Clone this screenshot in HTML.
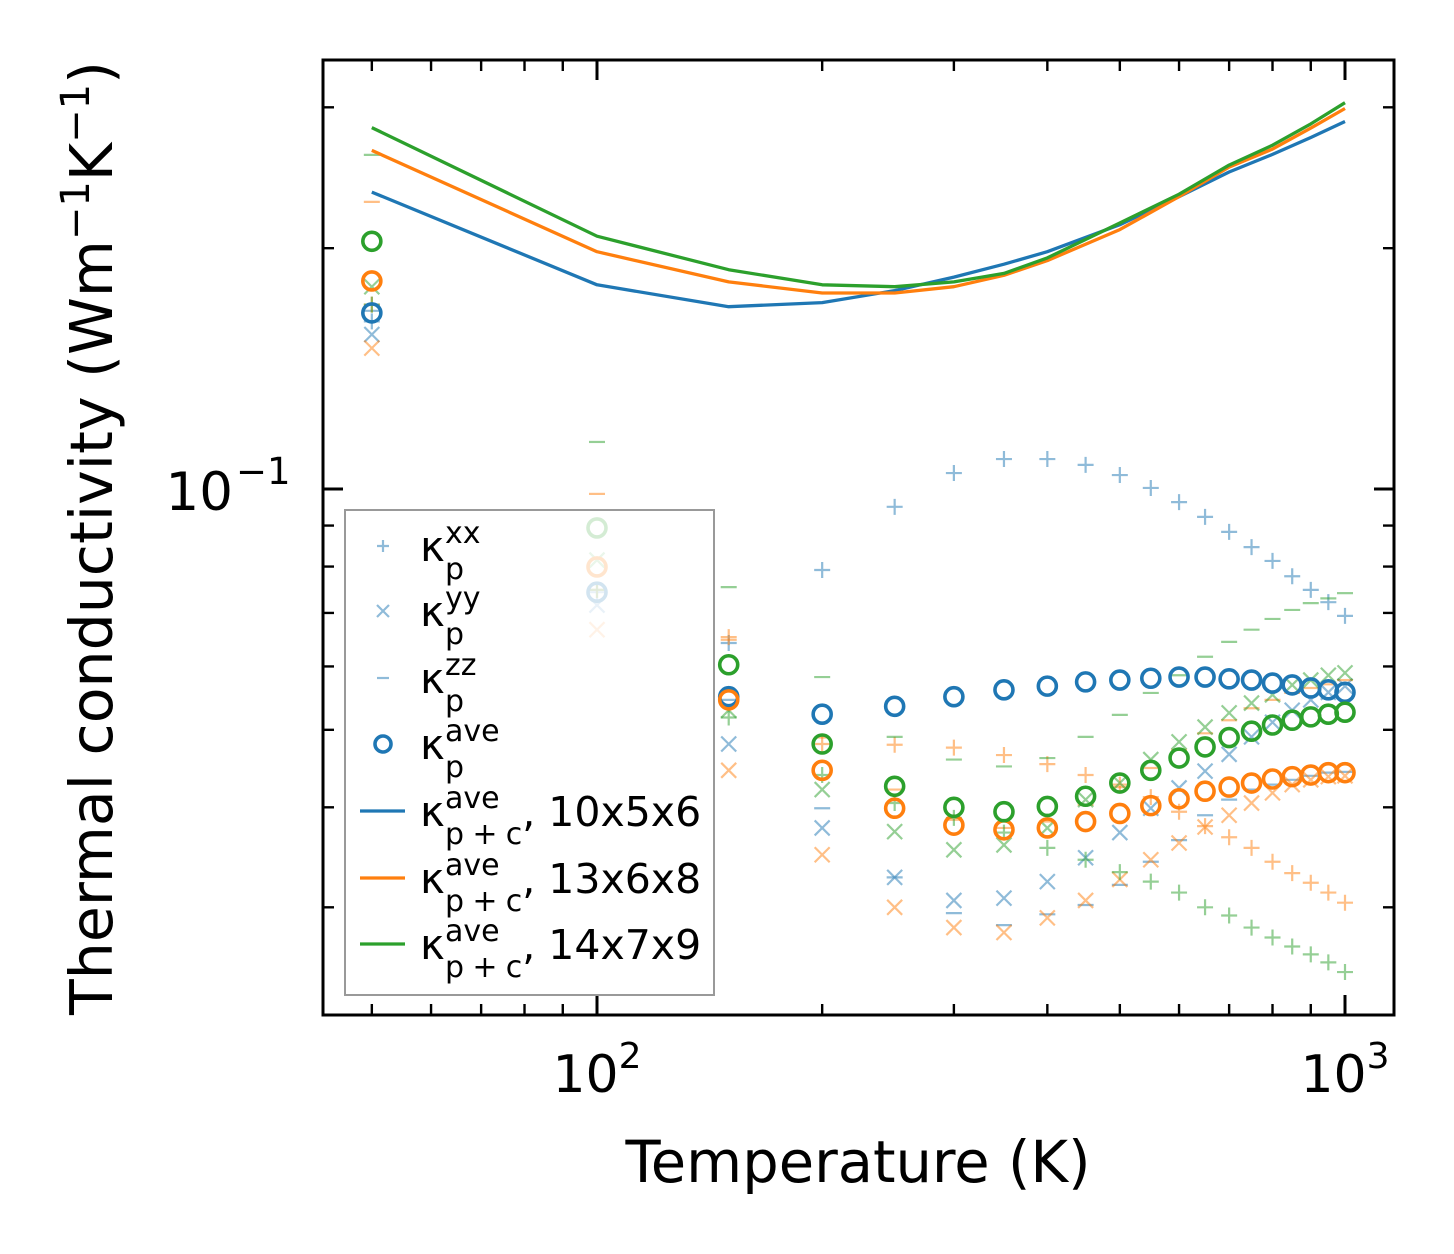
<!DOCTYPE html>
<html><head><meta charset="utf-8"><style>
html,body{margin:0;padding:0;background:#fff;}
svg{display:block;font-family:"DejaVu Sans","Liberation Sans",sans-serif;}
</style></head><body>
<svg id="chart" width="1454" height="1254" viewBox="0 0 1454 1254" xmlns="http://www.w3.org/2000/svg">
<rect width="1454" height="1254" fill="#fff"/>
<g id="marks"></g>
<g id="axes"></g>
<text x="858" y="1182" font-size="57.5" text-anchor="middle">Temperature (K)</text>
<text transform="translate(112,538) rotate(-90)" font-size="58.5" text-anchor="middle">Thermal conductivity (Wm<tspan baseline-shift="super" font-size="40">−1</tspan>K<tspan baseline-shift="super" font-size="40">−1</tspan>)</text>
<g id="legend"></g>
</svg>
<script>
const temps = [50,100,150,200,250,300,350,400,450,500,550,600,650,700,750,800,850,900,950,1000];
const lineTemps = [50,100,150,200,250,300,350,400,500,600,700,800,900,1000];
// kappa_p^xx
const blueXX = [0.162,0.0743,0.0642,0.0792,0.0950,0.1047,0.1090,0.1090,0.1072,0.1041,0.1003,0.0963,0.0923,0.0884,0.0846,0.0813,0.0778,0.0748,0.0722,0.0694];
const orangeXX = [0.170,0.0748,0.0653,0.0480,0.0479,0.0475,0.0465,0.0453,0.0439,0.0427,0.0412,0.0395,0.0379,0.0367,0.0356,0.0342,0.0331,0.0322,0.0313,0.0304];
const greenXX = [0.170,0.0748,0.0518,0.0439,0.0405,0.0388,0.0372,0.0356,0.0344,0.0332,0.0323,0.0313,0.0300,0.0293,0.0283,0.0275,0.0268,0.0262,0.0256,0.0249];
// kappa_p^yy
const blueYY = [0.156,0.0716,0.0480,0.0377,0.0327,0.0306,0.0308,0.0323,0.0346,0.0372,0.0399,0.0423,0.0444,0.0466,0.0490,0.0511,0.0529,0.0545,0.0557,0.0567];
const orangeYY = [0.150,0.0667,0.0445,0.0349,0.0300,0.0283,0.0279,0.0291,0.0306,0.0325,0.0344,0.0361,0.0378,0.0391,0.0405,0.0417,0.0427,0.0433,0.0437,0.0438];
const greenYY = [0.179,0.0815,0.0529,0.0421,0.0373,0.0354,0.0359,0.0377,0.0409,0.0429,0.0459,0.0483,0.0504,0.0525,0.0540,0.0553,0.0569,0.0577,0.0585,0.0589];
// kappa_p^zz
const blueZZ = [0.167,0.0748,0.0545,0.0399,0.0327,0.0295,0.0285,0.0294,0.0302,0.0320,0.0342,0.0364,0.0391,0.0409,0.0421,0.0427,0.0433,0.0438,0.0442,0.0443];
const orangeZZ = [0.2285,0.0986,0.0648,0.0489,0.0421,0.0386,0.0377,0.0384,0.0403,0.0424,0.0448,0.0472,0.0495,0.0514,0.0532,0.0545,0.0556,0.0564,0.0570,0.0577];
const greenZZ = [0.2616,0.1145,0.0754,0.0582,0.0490,0.0459,0.0450,0.0461,0.0490,0.0522,0.0556,0.0585,0.0617,0.0644,0.0667,0.0688,0.0706,0.0720,0.0730,0.0741];
// kappa_p^ave
const blueAve = [0.166,0.0743,0.0550,0.0523,0.0535,0.0550,0.0561,0.0567,0.0574,0.0577,0.0580,0.0582,0.0582,0.0579,0.0577,0.0572,0.0569,0.0564,0.0561,0.0557];
const orangeAve = [0.182,0.0799,0.0545,0.0445,0.0399,0.0380,0.0375,0.0377,0.0384,0.0393,0.0402,0.0410,0.0419,0.0424,0.0429,0.0434,0.0437,0.0439,0.0442,0.0442];
const greenAve = [0.204,0.0894,0.0603,0.0480,0.0425,0.0400,0.0395,0.0401,0.0413,0.0429,0.0445,0.0461,0.0476,0.0489,0.0498,0.0507,0.0514,0.0519,0.0523,0.0526];
// kappa_{p+c}^ave lines
const line10x5x6 = [0.235,0.180,0.169,0.171,0.177,0.184,0.191,0.198,0.214,0.232,0.249,0.262,0.275,0.288];
const line13x6x8 = [0.265,0.198,0.1815,0.1758,0.1758,0.179,0.185,0.193,0.211,0.232,0.2526,0.266,0.2826,0.299];
const line14x7x9 = [0.283,0.207,0.188,0.180,0.179,0.1815,0.186,0.1945,0.215,0.2336,0.254,0.269,0.286,0.304];
const xMajorTicks = [100,1000];
const xMajorLabels = ["2","3"];
const xMinorTicks = [50,60,70,80,90,200,300,400,500,600,700,800,900];
const yMajorTicks = [0.1];
const yMinorTicks = [0.03,0.04,0.05,0.06,0.07,0.08,0.09,0.2,0.3];

const L=323,R=1394,T=60,B=1015;
function xs(t){return 597+748*Math.log10(t/100);}
function ys(v){return 489-800*Math.log10(v/0.1);}
const NS="http://www.w3.org/2000/svg";
function mk(tag,attrs,parent){const e=document.createElementNS(NS,tag);for(const k in attrs)e.setAttribute(k,attrs[k]);parent.appendChild(e);return e;}
const C={blue:"#1f77b4",orange:"#ff7f0e",green:"#2ca02c"};
const marks=document.getElementById('marks');
const clip=mk('clipPath',{id:'pc'},marks);mk('rect',{x:L,y:T,width:R-L,height:B-T},clip);
const g=mk('g',{'clip-path':'url(#pc)'},marks);

function plus(x,y,s,col,parent){return mk('path',{d:`M${x-s},${y}H${x+s}M${x},${y-s}V${y+s}`,stroke:col,'stroke-width':2.2,'stroke-opacity':0.5,fill:'none'},parent);}
function cross(x,y,s,col,parent){return mk('path',{d:`M${x-s},${y-s}L${x+s},${y+s}M${x-s},${y+s}L${x+s},${y-s}`,stroke:col,'stroke-width':2.2,'stroke-opacity':0.5,fill:'none'},parent);}
function dash(x,y,s,col,parent){return mk('path',{d:`M${x-s},${y}H${x+s}`,stroke:col,'stroke-width':2.2,'stroke-opacity':0.5,fill:'none'},parent);}
function ring(x,y,r,col,parent){return mk('circle',{cx:x,cy:y,r:r,stroke:col,'stroke-width':3.6,fill:'none'},parent);}

const scatter=[
 ['blue','xx',blueXX],['blue','yy',blueYY],['blue','zz',blueZZ],
 ['orange','xx',orangeXX],['orange','yy',orangeYY],['orange','zz',orangeZZ],
 ['green','xx',greenXX],['green','yy',greenYY],['green','zz',greenZZ]];
scatter.forEach(([c,k,arr])=>{
  arr.forEach((v,i)=>{
    const x=xs(temps[i]),y=ys(v);let el;
    if(k==='xx')el=plus(x,y,8,C[c],g);else if(k==='yy')el=cross(x,y,7.5,C[c],g);else el=dash(x,y,8,C[c],g);
    
    
  });
});
[['blue',line10x5x6],['orange',line13x6x8],['green',line14x7x9]].forEach(([c,arr])=>{
  const d=arr.map((v,i)=>(i?'L':'M')+xs(lineTemps[i]).toFixed(1)+','+ys(v).toFixed(1)).join('');
  const p=mk('path',{d:d,stroke:C[c],'stroke-width':3.3,fill:'none','stroke-linejoin':'round'},g);
  
  
});
[['blue',blueAve],['orange',orangeAve],['green',greenAve]].forEach(([c,arr])=>{
  arr.forEach((v,i)=>{
    const el=ring(xs(temps[i]),ys(v),9,C[c],g);
    
    
  });
});

// axes
const ax=document.getElementById('axes');
function tk(d,w){return mk('path',{d:d,stroke:'#000','stroke-width':w,fill:'none'},ax);}
xMajorTicks.forEach((t,i)=>{const x=xs(t);
  const e=tk(`M${x},${B}V${B-20}M${x},${T}V${T+20}`,3);
  
  
  const tx=mk('text',{x:x,y:1092,'font-size':52,'text-anchor':'middle'},ax);
  
  
  tx.innerHTML='10<tspan dy="-24" font-size="36">'+xMajorLabels[i]+'</tspan>';
});
xMinorTicks.forEach(t=>{const x=xs(t);
  const e=tk(`M${x},${B}V${B-11}M${x},${T}V${T+11}`,2.4);
  
  
});
yMajorTicks.forEach(v=>{const y=ys(v);
  const e=tk(`M${L},${y}H${L+20}M${R},${y}H${R-20}`,3);
  
  
  const tx=mk('text',{x:233,y:y+21,'font-size':53,'text-anchor':'end'},ax);
  
  
  tx.innerHTML='10';
  const sp=mk('text',{x:236,y:y-5,'font-size':37,'text-anchor':'start'},ax);
  
  
  sp.textContent='−1';
});
yMinorTicks.forEach(v=>{const y=ys(v);
  const e=tk(`M${L},${y}H${L+11}M${R},${y}H${R-11}`,2.4);
  
  
});
const fr=mk('rect',{x:L,y:T,width:R-L,height:B-T,fill:'none',stroke:'#000','stroke-width':3},ax);



// legend
const lg=document.getElementById('legend');
const box=mk('rect',{x:345,y:510,width:369,height:485,fill:'#fff','fill-opacity':0.8,stroke:'#999','stroke-width':2},lg);


const entries=[['plus','xx',''],['cross','yy',''],['dash','zz',''],['ring','ave',''],['line','ave','10x5x6'],['line','ave','13x6x8'],['line','ave','14x7x9']];
const rowY=[546,611,678,744,811,878,944];
const lineCols=['blue','orange','green'];
entries.forEach((e,i)=>{
  const y=rowY[i];
  const grp=mk('g',{},lg);
  
  
  if(e[0]==='plus')plus(383,y,6,C.blue,grp);
  else if(e[0]==='cross')cross(383,y,6,C.blue,grp);
  else if(e[0]==='dash')dash(383,y,6,C.blue,grp);
  else if(e[0]==='ring')ring(383,y,8,C.blue,grp);
  else mk('path',{d:`M360,${y}H405`,stroke:C[lineCols[i-4]],'stroke-width':3.3},grp);
  const t=mk('text',{x:420,y:y+15,'font-size':42},grp);
  const sub = e[0]==='line' ? 'p<tspan font-size="26"> </tspan>+<tspan font-size="26"> </tspan>c' : 'p';
  let html='κ<tspan x="445" dy="-18" font-size="30">'+e[1]+'</tspan><tspan x="445" dy="36" font-size="30">'+sub+'</tspan>';
  if(e[2]) html+='<tspan dy="-18" font-size="41">, '+e[2]+'</tspan>';
  t.innerHTML=html;
});
</script>
</body></html>
